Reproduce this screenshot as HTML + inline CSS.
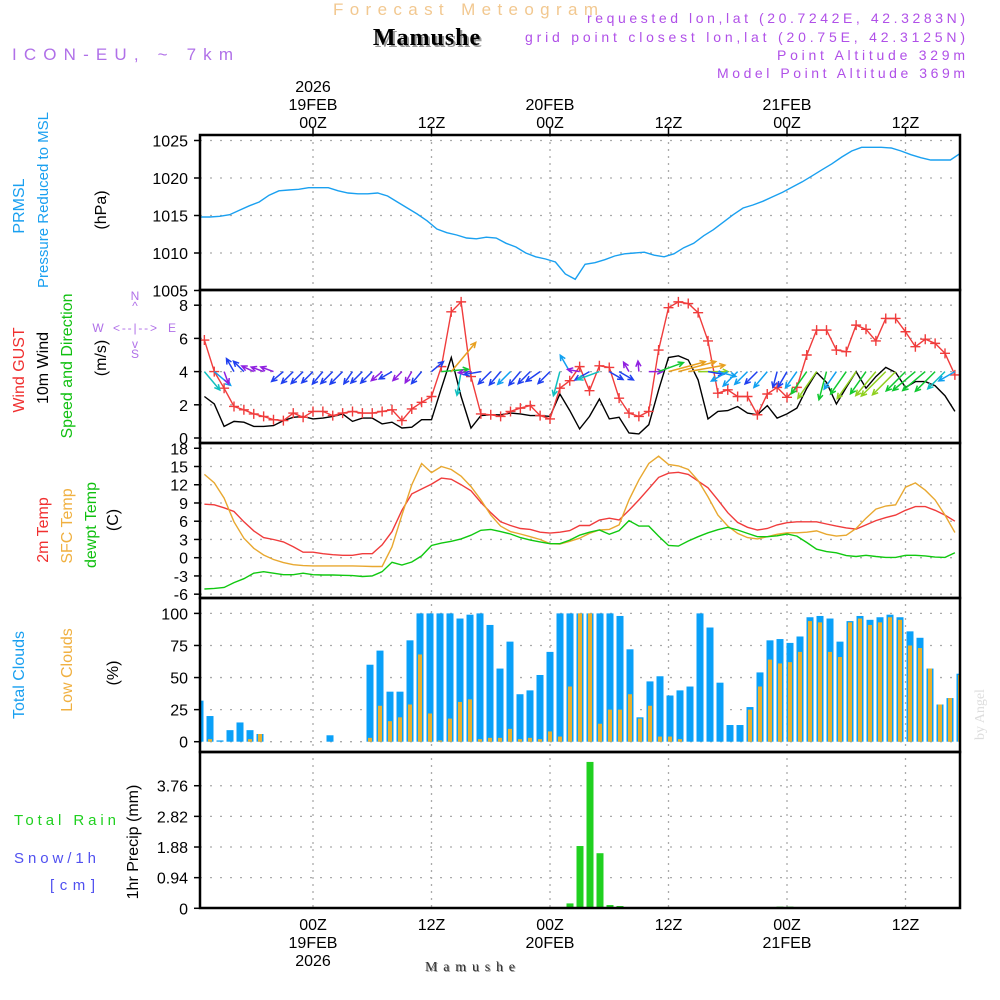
<!DOCTYPE html>
<html><head><meta charset="utf-8"><style>
html,body{margin:0;padding:0;background:#fff;}
svg{display:block;font-family:"Liberation Sans",sans-serif;}
</style></head><body>
<svg id="chart" width="1000" height="1000" viewBox="0 0 1000 1000" xmlns="http://www.w3.org/2000/svg">
<defs><clipPath id="plotclip"><rect x="200" y="135" width="760" height="775"/></clipPath></defs>
<g id="header">
<text x="333" y="15" textLength="265" lengthAdjust="spacing" font-size="17" fill="#f2c890">Forecast Meteogram</text>
<text x="429" y="47" text-anchor="middle" font-size="24" font-weight="bold" font-family="Liberation Serif,serif" fill="#999" letter-spacing="1">Mamushe</text>
<text x="427" y="45" text-anchor="middle" font-size="24" font-weight="bold" font-family="Liberation Serif,serif" fill="#000" letter-spacing="1">Mamushe</text>
<text x="12" y="60" textLength="221" lengthAdjust="spacing" font-size="17" fill="#b070e8">ICON-EU, ~ 7km</text>
<g font-size="14" fill="#b050e8">
<text x="587" y="23" textLength="378" lengthAdjust="spacing">requested lon,lat (20.7242E, 42.3283N)</text>
<text x="525" y="42" textLength="440" lengthAdjust="spacing">grid point closest lon,lat (20.75E, 42.3125N)</text>
<text x="777" y="60" textLength="188" lengthAdjust="spacing">Point Altitude 329m</text>
<text x="717" y="78" textLength="248" lengthAdjust="spacing">Model Point Altitude 369m</text>
</g>
<text x="426" y="972" textLength="90" lengthAdjust="spacing" font-size="14" font-family="Liberation Serif,serif" fill="#999">Mamushe</text>
<text x="425" y="971" textLength="90" lengthAdjust="spacing" font-size="14" font-family="Liberation Serif,serif" fill="#333">Mamushe</text>
<text transform="translate(984,740) rotate(-90)" font-size="14" font-family="Liberation Serif,serif" fill="#ddd">by Angel</text>
</g>
<g id="ylabels" font-size="16">
<text transform="translate(24,206) rotate(-90)" text-anchor="middle" fill="#1aa0f0">PRMSL</text>
<text transform="translate(48,200) rotate(-90)" text-anchor="middle" font-size="15" fill="#1aa0f0">Pressure Reduced to MSL</text>
<text transform="translate(106,210) rotate(-90)" text-anchor="middle" fill="#000">(hPa)</text>
<text transform="translate(24,370) rotate(-90)" text-anchor="middle" fill="#f03030">Wind GUST</text>
<text transform="translate(48,368) rotate(-90)" text-anchor="middle" fill="#000">10m Wind</text>
<text transform="translate(72,366) rotate(-90)" text-anchor="middle" fill="#10c010">Speed and Direction</text>
<text transform="translate(106,358) rotate(-90)" text-anchor="middle" fill="#000">(m/s)</text>
<g fill="#b070e8" font-size="12">
<text x="135" y="300" text-anchor="middle">N</text>
<text x="135" y="310" text-anchor="middle">^</text>
<text x="98" y="332" text-anchor="middle">W</text>
<text x="135" y="332" text-anchor="middle" textLength="44" lengthAdjust="spacing">&lt;--|--&gt;</text>
<text x="172" y="332" text-anchor="middle">E</text>
<text x="135" y="348" text-anchor="middle">v</text>
<text x="135" y="358" text-anchor="middle">S</text>
</g>
<text transform="translate(48,530) rotate(-90)" text-anchor="middle" fill="#f03030">2m Temp</text>
<text transform="translate(72,526) rotate(-90)" text-anchor="middle" fill="#f0b040">SFC Temp</text>
<text transform="translate(96,525) rotate(-90)" text-anchor="middle" fill="#10c010">dewpt Temp</text>
<text transform="translate(118,520) rotate(-90)" text-anchor="middle" fill="#000">(C)</text>
<text transform="translate(24,675) rotate(-90)" text-anchor="middle" fill="#1aa0f0">Total Clouds</text>
<text transform="translate(72,670) rotate(-90)" text-anchor="middle" fill="#f0b040">Low Clouds</text>
<text transform="translate(118,673) rotate(-90)" text-anchor="middle" fill="#000">(%)</text>
<text x="14" y="825" textLength="102" lengthAdjust="spacing" fill="#20d020" font-size="15">Total Rain</text>
<text x="14" y="863" textLength="82" lengthAdjust="spacing" fill="#5050f0" font-size="15">Snow/1h</text>
<text x="50" y="890" textLength="45" lengthAdjust="spacing" fill="#5050f0" font-size="15">[cm]</text>
<text transform="translate(138,842) rotate(-90)" text-anchor="middle" fill="#000">1hr Precip (mm)</text>
</g>
<g id="grid"></g>
<g id="marks" clip-path="url(#plotclip)"></g>
<g id="axes"></g>
</svg>
<script>
// ---- data (hourly) ----
const pressure = [1014.8,1014.8,1014.9,1015.1,1015.7,1016.3,1016.8,1017.7,1018.3,1018.4,1018.5,1018.7,1018.7,1018.7,1018.3,1018.0,1017.9,1017.9,1018.0,1017.6,1016.8,1016.0,1015.2,1014.3,1013.2,1012.7,1012.4,1012.0,1011.9,1012.1,1012.0,1011.3,1010.8,1010.0,1009.5,1009.2,1008.8,1007.2,1006.5,1008.5,1008.7,1009.1,1009.6,1009.9,1010.0,1010.1,1009.7,1009.5,1009.9,1010.7,1011.3,1012.3,1013.1,1014.1,1015.1,1016.0,1016.4,1016.9,1017.5,1018.1,1018.8,1019.5,1020.3,1021.1,1021.9,1022.8,1023.6,1024.1,1024.1,1024.1,1024.0,1023.6,1023.1,1022.7,1022.4,1022.4,1022.4,1023.3];
const gust = [5.9,4.0,3.0,1.9,1.7,1.45,1.3,1.1,1.05,1.5,1.25,1.6,1.6,1.35,1.5,1.6,1.5,1.5,1.6,1.7,1.05,1.75,2.15,2.5,4.3,7.6,8.2,3.7,1.45,1.4,1.3,1.6,1.8,1.95,1.35,1.15,3.0,3.45,4.3,2.85,4.35,4.25,2.4,1.5,1.3,1.6,5.3,7.85,8.2,8.1,7.55,5.85,2.7,2.9,2.5,2.5,1.4,2.65,3.05,2.45,3.05,5.0,6.5,6.5,5.3,5.2,6.8,6.55,5.85,7.2,7.2,6.4,5.5,5.95,5.7,5.1,3.8];
const wind10m = [2.5,2.05,0.7,1.0,0.95,0.7,0.7,0.75,1.05,1.25,1.3,1.15,1.2,1.3,1.45,1.0,1.2,1.2,0.85,0.95,0.6,0.65,1.1,1.1,3.0,4.85,2.5,0.6,1.35,1.4,1.4,1.5,1.45,1.35,1.35,1.3,2.65,1.65,0.55,1.3,2.35,1.15,1.25,0.3,0.25,0.8,2.9,4.85,4.95,4.7,3.5,1.15,1.6,1.65,1.9,1.5,1.4,1.95,1.2,1.45,1.8,3.0,3.95,3.35,2.05,3.05,4.0,3.0,3.7,4.25,3.95,3.05,3.4,3.4,3.15,2.55,1.6];
const windDir = [320,310,340,150,135,115,110,110,50,45,45,45,40,45,45,35,45,45,50,60,45,30,40,230,265,220,10,85,80,45,40,45,40,45,55,45,15,150,100,60,70,300,300,150,175,270,250,255,255,260,270,280,285,60,45,45,45,40,15,30,35,35,35,15,35,35,35,35,40,45,45,45,50,50,45,45,60];
const temp2m = [8.8,8.7,8.2,7.6,5.9,4.4,3.3,3.0,2.6,1.8,0.9,0.9,0.65,0.5,0.4,0.4,0.65,0.65,2.1,4.3,7.8,10.5,11.3,12.1,13.1,12.9,12.0,11.0,9.1,7.4,5.9,5.3,4.8,4.65,4.2,4.05,4.2,4.45,5.3,5.3,6.2,6.5,6.2,7.8,9.5,11.35,13.2,13.9,14.05,13.7,12.6,11.5,9.5,7.4,5.8,5.0,4.55,4.8,5.4,5.75,5.9,5.9,5.9,5.55,5.2,4.9,4.7,5.4,6.1,6.6,7.0,7.8,8.4,8.4,7.8,7.0,6.0];
const sfcTemp = [13.7,12.3,9.8,5.9,3.2,1.55,0.45,-0.3,-0.8,-1.15,-1.3,-1.35,-1.35,-1.35,-1.35,-1.35,-1.4,-1.45,-1.45,1.8,7.0,12.0,15.5,14.0,15.0,14.5,13.4,11.7,9.5,7.0,5.2,4.3,3.9,3.45,3.0,2.3,2.25,2.7,3.2,4.0,4.55,4.65,5.4,9.5,12.8,15.5,16.7,15.35,15.1,14.5,12.7,10.0,7.0,5.2,4.0,3.3,3.1,3.45,3.85,4.1,4.1,4.2,4.4,3.85,3.55,3.7,4.8,6.5,8.0,8.5,8.7,11.6,12.3,11.1,9.5,7.0,4.15];
const dewpt = [-5.15,-5.05,-4.9,-4.1,-3.45,-2.55,-2.3,-2.55,-2.8,-2.8,-2.55,-2.8,-2.85,-2.85,-2.9,-2.95,-3.1,-3.0,-2.3,-0.75,-1.2,-0.7,0.3,2.0,2.4,2.7,3.1,3.7,4.5,4.65,4.3,3.9,3.3,2.9,2.6,2.3,2.3,2.9,3.7,4.2,4.55,3.85,4.45,6.1,5.2,5.2,3.55,2.0,1.9,2.75,3.45,4.1,4.6,5.0,4.55,4.0,3.45,3.45,3.6,3.9,3.55,2.5,1.4,1.0,0.8,0.35,0.2,0.4,0.2,0.05,0.05,0.4,0.4,0.3,0.1,0.05,0.8];
const totalClouds = [32,20,1,9,15,9,6,0,0,0,0,0,0,5,0,0,0,60,71,39,39,79,100,100,100,100,96,99,100,91,57,78,37,40,52,70,100,100,100,100,100,100,98,72,19,47,51,36,40,43,100,89,46,13,13,27,54,79,80,77,82,97,98,96,78,94,98,95,97,99,97,86,81,57,29,34,53];
const lowClouds = [0,2,0,0,0,2,6,0,0,0,0,0,0,0,0,0,0,3,28,16,19,29,68,22,1,18,31,33,2,3,3,10,2,3,2,8,4,43,100,100,14,25,25,37,18,28,4,4,2,0,0,0,0,0,0,25,43,64,61,62,70,94,93,70,66,93,96,91,93,97,95,75,73,57,29,34,52];
const precip = [0,0,0,0,0,0,0,0,0,0,0,0,0,0,0,0,0,0,0,0,0,0,0,0,0,0,0,0,0,0,0,0,0,0,0,0,0,0.15,1.91,4.49,1.69,0.1,0.07,0,0,0,0,0,0,0,0,0,0,0,0,0,0,0,0.05,0.05,0,0,0,0.01,0,0,0,0,0,0,0,0,0,0,0,0,0,0];
const pressTicks = [1005,1010,1015,1020,1025];
const windTicks = [0,2,4,6,8];
const tempTicks = [-6,-3,0,3,6,9,12,15,18];
const cloudTicks = [0,25,50,75,100];
const precipTicks = [0,0.94,1.88,2.82,3.76];
const timeTicksH = [0,12,24,36,48,60];
const timeLabels = ['00Z','12Z','00Z','12Z','00Z','12Z'];
const dateLabels = ['19FEB','','20FEB','','21FEB',''];

// ---- scales ----
const NS='http://www.w3.org/2000/svg';
const xh = h => 313 + 9.875*h;
const xi = i => xh(i - 11);
const xb = j => 200 + 10*j;
const yP = v => 140.5 + (1025 - v)*7.5;
const yW = v => 438 - v*16.6;
const yT = v => 557.7 - v*6.08;
const yC = v => 741.7 - v*1.283;
const yR = v => 908.3 - v*32.6;
const panels = [[135,290],[290,443],[443,598],[598,752],[752,908]];

function mk(tag, attrs, parent){const e=document.createElementNS(NS,tag);for(const k in attrs)e.setAttribute(k,attrs[k]);parent.appendChild(e);return e;}
const grid=document.getElementById('grid'), marks=document.getElementById('marks'), axes=document.getElementById('axes');

timeTicksH.forEach(h=>{
  const l=mk('line',{x1:xh(h),x2:xh(h),y1:135,y2:908,stroke:'#aaa','stroke-width':1.3,'stroke-dasharray':'2,5'},grid);
  
  
});
function hgrid(ticks, ys, name){
  ticks.forEach(t=>{
    const l=mk('line',{x1:200,x2:960,y1:ys(t),y2:ys(t),stroke:'#aaa','stroke-width':1.3,'stroke-dasharray':'2,8'},grid);
    
    
    const tk=mk('line',{x1:194,x2:200,y1:ys(t),y2:ys(t),stroke:'#000','stroke-width':1.5},axes);
    
    
    const tx=mk('text',{x:188,y:ys(t)+6,'text-anchor':'end','font-size':16,fill:'#000'},axes);
    tx.textContent=String(t);
    
    
  });
}
hgrid(pressTicks,yP,'pressure');
hgrid(windTicks,yW,'wind');
hgrid(tempTicks,yT,'temp');
hgrid(cloudTicks,yC,'cloud');
hgrid(precipTicks,yR,'precip');

panels.forEach((p,k)=>{
  const r=mk('rect',{x:200,y:p[0],width:760,height:p[1]-p[0],fill:'none',stroke:'#000','stroke-width':2.5},axes);
  
  
});
timeTicksH.forEach((h,k)=>{
  const x=xh(h);
  const t1=mk('line',{x1:x,x2:x,y1:128,y2:135,stroke:'#000','stroke-width':1.5},axes);
  
  
  const a=mk('text',{x:x,y:128,'text-anchor':'middle','font-size':16},axes);
  a.textContent=timeLabels[k];
  
  
  const b=mk('text',{x:x,y:930,'text-anchor':'middle','font-size':16},axes);
  b.textContent=timeLabels[k];
  
  
  if(dateLabels[k]){
    const c=mk('text',{x:x,y:110,'text-anchor':'middle','font-size':16},axes);
    c.textContent=dateLabels[k];
    
    
    const d=mk('text',{x:x,y:948,'text-anchor':'middle','font-size':16},axes);
    d.textContent=dateLabels[k];
    
    
  }
});
const y1=mk('text',{x:xh(0),y:92,'text-anchor':'middle','font-size':16},axes);
y1.textContent='2026';


const y2=mk('text',{x:xh(0),y:966,'text-anchor':'middle','font-size':16},axes);
y2.textContent='2026';



function line(arr, xf, yf, color, name, w){
  const pts=arr.map((v,i)=>xf(i).toFixed(1)+','+yf(v).toFixed(1)).join(' ');
  const p=mk('polyline',{points:pts,fill:'none',stroke:color,'stroke-width':w||1.4},marks);
  
  
  return p;
}
line(pressure, i=>xh(i-11.45), yP, '#1aa0f0', 'pressure-line');
line(wind10m, xi, yW, '#000', 'wind-10m-line');
line(gust, xi, yW, '#f03c3c', 'gust-line');
gust.forEach((v,i)=>{
  const x=xi(i), y=yW(v);
  const g=mk('path',{d:`M${x-5},${y}h10M${x},${y-5}v10`,stroke:'#f03c3c','stroke-width':1.4},marks);
  
  
});
function spColor(s){
  if(s<0.9) return '#9020e0';
  if(s<1.5) return '#2040f0';
  if(s<2.2) return '#10a0f0';
  if(s<2.8) return '#10c0c0';
  if(s<3.5) return '#10c830';
  if(s<4.3) return '#90d020';
  return '#e8a020';
}
windDir.forEach((d,i)=>{
  if(i>=wind10m.length) return;
  const s=wind10m[i];
  const L=9+s*6;
  const a=(d+180)*Math.PI/180;
  const x0=xi(i), y0=yW(4);
  const x1=x0+L*Math.sin(a), y1=y0-L*Math.cos(a);
  const ha=Math.atan2(y1-y0,x1-x0);
  const hl=6;
  const p1x=x1-hl*Math.cos(ha-0.45), p1y=y1-hl*Math.sin(ha-0.45);
  const p2x=x1-hl*Math.cos(ha+0.45), p2y=y1-hl*Math.sin(ha+0.45);
  const c=spColor(s);
  const ar=mk('path',{d:`M${x0},${y0}L${x1},${y1}M${p1x},${p1y}L${x1},${y1}L${p2x},${p2y}`,stroke:c,'stroke-width':1.5,fill:'none'},marks);
  
  
});
line(temp2m, xi, yT, '#f03c3c', 'temp-2m-line');
line(sfcTemp, xi, yT, '#e8a830', 'sfc-temp-line');
line(dewpt, xi, yT, '#10c810', 'dewpt-line');

totalClouds.forEach((v,j)=>{
  const x=xb(j);
  const r=mk('rect',{x:x-3.5,y:yC(v),width:7,height:yC(0)-yC(v),fill:'#0aa0f8'},marks);
  
  
});
lowClouds.forEach((v,j)=>{
  const x=xb(j);
  const r=mk('rect',{x:x-2,y:yC(v),width:4,height:yC(0)-yC(v),fill:'#e8b030'},marks);
  
  
});
precip.forEach((v,j)=>{
  if(v<=0) return;
  const x=xb(j);
  const r=mk('rect',{x:x-3.5,y:yR(v),width:7,height:Math.max(1,yR(0)-yR(v)),fill:'#20d020'},marks);
  
  
});
const bl=mk('line',{x1:200,x2:960,y1:908,y2:908,stroke:'#000','stroke-width':2,'stroke-dasharray':'8,3'},axes);


</script>
</body></html>
